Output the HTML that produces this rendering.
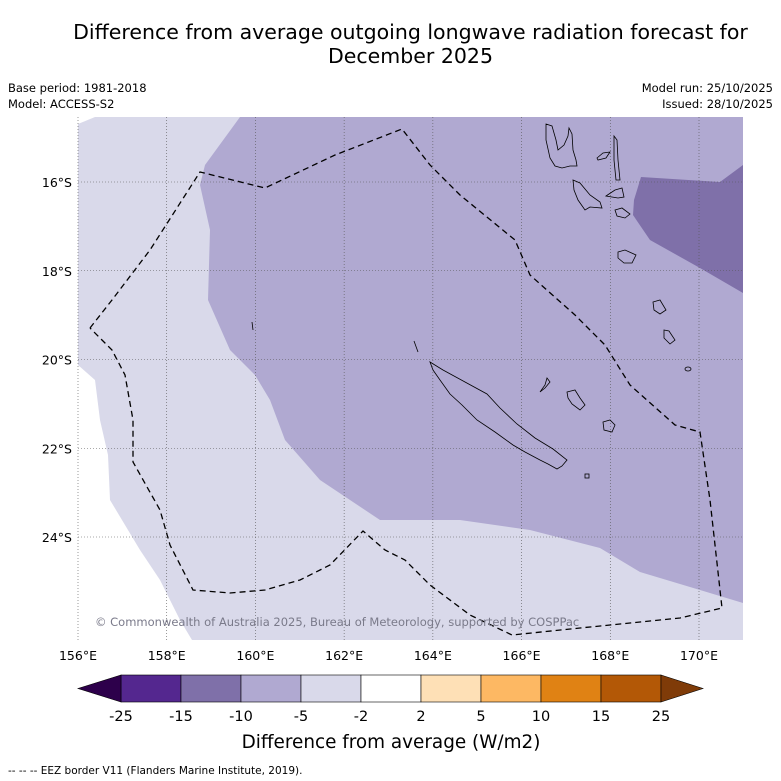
<!DOCTYPE html>
<html><head><meta charset="utf-8">
<style>
body{margin:0;background:#fff;font-family:"DejaVu Sans","Liberation Sans",sans-serif;}
#wrap{position:relative;width:781px;height:781px;overflow:hidden;}
.t{position:absolute;white-space:nowrap;color:#000;}
</style></head><body>
<div id="wrap">
<div class="t" style="left:0;width:821px;top:20px;text-align:center;font-size:20.5px;line-height:24px;">Difference from average outgoing longwave radiation forecast for<br>December 2025</div>
<div class="t" style="left:8px;top:80px;font-size:11.5px;line-height:16px;">Base period: 1981-2018<br>Model: ACCESS-S2</div>
<div class="t" style="right:8px;top:80px;font-size:11.5px;line-height:16px;text-align:right;">Model run: 25/10/2025<br>Issued: 28/10/2025</div>
<svg id="svg" width="781" height="781" style="position:absolute;left:0;top:0">
<defs><clipPath id="mc"><rect x="78" y="117" width="665" height="523"/></clipPath></defs>
<g clip-path="url(#mc)">
<rect x="78" y="117" width="665" height="523" fill="#d9d9ea"/>
<polygon fill="#fff" points="70,117 95,117 78,124 70,124 70,365 78,365 95,380 100,420 108,455 110,500 140,550 160,580 180,620 195,645 70,645"/>
<polygon fill="#b0a9d1" points="240,117 205,165 200,185 210,230 208,300 230,350 255,375 270,400 285,440 320,480 380,520 460,520 530,530 600,548 640,572 700,590 743,603 743,117"/>
<polygon fill="#7f70a9" points="743,165 720,182 641,177 634,200 633,215 650,240 700,268 743,293"/>
</g>
<g id="grid"></g>
<g fill="none" stroke="#000" stroke-width="0.8">
<polygon points="430,362 443,370 465,382 487,394 500,408 517,424 535,438 553,449 567,460 562,466 557,469 548,464 540,460 525,452 513,445 495,432 477,420 462,405 450,394 440,380 433,370"/>
<polygon points="546,124 552,126 556,140 558,150 564,145 568,136 569,128 572,134 573,150 576,160 577,166 570,166 562,168 555,166 550,158 546,140"/>
<polygon points="573,180 580,183 590,195 600,202 602,208 590,207 585,210 578,200 574,190"/>
<polygon points="597,158 603,153 610,152 606,158 598,160"/>
<polygon points="614,136 617,140 618,160 620,180 616,180 614,160"/>
<polygon points="606,196 615,190 622,188 624,197 618,198"/>
<polygon points="615,210 622,208 630,214 625,218 617,216"/>
<polygon points="618,252 625,250 636,255 632,263 624,263 618,258"/>
<polygon points="653,302 660,300 666,310 660,314 654,310"/>
<polygon points="664,330 669,331 675,340 670,344 664,338"/>
<polygon points="567,392 575,390 580,398 585,405 580,410 572,404 568,398"/>
<polygon points="603,422 610,420 615,425 612,432 604,430"/>
<polygon points="547,378 550,382 545,388 540,392 545,385"/>
<ellipse cx="688" cy="369" rx="3" ry="2"/><rect x="585" y="474" width="4" height="4"/>
<line x1="414" y1="341" x2="418" y2="352"/><line x1="252" y1="322" x2="253" y2="330"/>
</g>
<polyline fill="none" stroke="#000" stroke-width="1.3" stroke-dasharray="6,4" points="90,328 112,300 150,250 200,172 265,188 335,155 402,129 430,165 460,195 515,240 530,275 575,315 605,345 630,385 675,425 700,432 710,500 722,608 680,618 640,622 580,628 512,635 470,615 430,585 405,560 385,550 363,531 330,565 300,580 265,590 230,593 193,590 170,545 160,510 133,462 133,420 125,375 112,350 90,328"/>
<text x="95" y="626" font-size="11.5" fill="#7a7a8a" font-family="DejaVu Sans,sans-serif">© Commonwealth of Australia 2025, Bureau of Meteorology, supported by COSPPac</text>
<g id="axes"></g>
<g id="cbar"></g>
<text x="391" y="748" font-size="18.4" text-anchor="middle" font-family="DejaVu Sans,sans-serif">Difference from average (W/m2)</text>
<text x="8" y="774" font-size="10.5" font-family="DejaVu Sans,sans-serif">--  --  -- EEZ border V11 (Flanders Marine Institute, 2019).</text>
</svg>
</div>
<script>
const lonTicks=[156,158,160,162,164,166,168,170];
const latTicks=[16,18,20,22,24];
const levels=["-25","-15","-10","-5","-2","2","5","10","15","25"];
const levelColors=["#54278f","#7f70a9","#b0a9d1","#d9d9ea","#ffffff","#fee0b6","#fdb863","#e08214","#b35806"];
const extColors=["#2d004b","#7f3b08"];
const NS="http://www.w3.org/2000/svg";
function mk(t,a,p){const e=document.createElementNS(NS,t);for(const k in a)e.setAttribute(k,a[k]);p.appendChild(e);return e;}
const xs=l=>78+(l-156)*44.357, ys=la=>182+(la-16)*44.375;
const grid=document.getElementById('grid'),axes=document.getElementById('axes'),cb=document.getElementById('cbar');
lonTicks.forEach(l=>{const x=xs(l);
 const g=mk('line',{x1:x,x2:x,y1:117,y2:640,stroke:'#555','stroke-width':0.6,'stroke-dasharray':'1,2'},grid);
 
 
 const t=mk('text',{x:x,y:660,'font-size':12.5,'text-anchor':'middle','font-family':'DejaVu Sans,sans-serif'},axes);t.textContent=l+'°E';
 
 });
latTicks.forEach(la=>{const y=ys(la);
 const g=mk('line',{x1:78,x2:743,y1:y,y2:y,stroke:'#555','stroke-width':0.6,'stroke-dasharray':'1,2'},grid);
 
 
 const t=mk('text',{x:72,y:y+5,'font-size':12.5,'text-anchor':'end','font-family':'DejaVu Sans,sans-serif'},axes);t.textContent=la+'°S';
 
 });
const cx0=121,cw=60,cy=675,ch=27;
levelColors.forEach((c,i)=>{const r=mk('rect',{x:cx0+i*cw,y:cy,width:cw,height:ch,fill:c,stroke:'#000','stroke-width':0.6},cb);
 
 });
const e1=mk('polygon',{points:`${cx0},${cy} 78,${cy+ch/2} ${cx0},${cy+ch}`,fill:extColors[0],stroke:'#000','stroke-width':0.6},cb);


const xe=cx0+levelColors.length*cw;
const e2=mk('polygon',{points:`${xe},${cy} ${xe+42},${cy+ch/2} ${xe},${cy+ch}`,fill:extColors[1],stroke:'#000','stroke-width':0.6},cb);


levels.forEach((v,i)=>{const t=mk('text',{x:cx0+i*cw,y:721,'font-size':14.5,'text-anchor':'middle','font-family':'DejaVu Sans,sans-serif'},cb);t.textContent=v;
 
 });
</script>
</body></html>
